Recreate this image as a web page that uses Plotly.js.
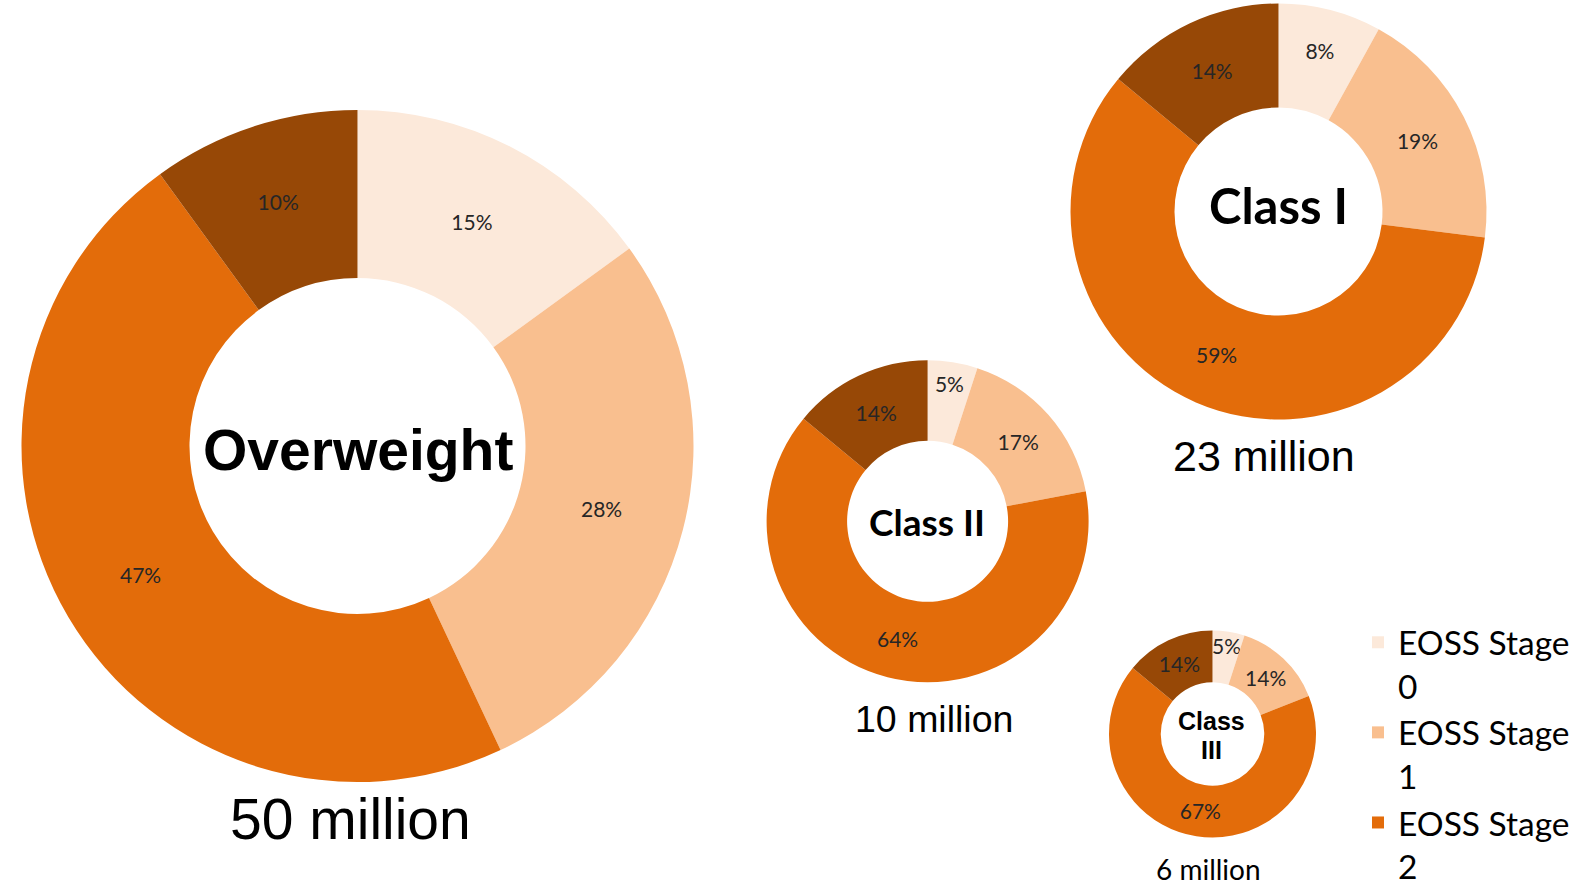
<!DOCTYPE html>
<html>
<head>
<meta charset="utf-8">
<script src="https://cdn.plot.ly/plotly-3.0.1.min.js"></script>
<style>
html,body{margin:0;padding:0;background:#fff;}
#chart{width:1581px;height:882px;}
</style>
</head>
<body>
<div id="chart"></div>
<script>
// ---- data ----
const categories = ['EOSS Stage<br>0', 'EOSS Stage<br>1', 'EOSS Stage<br>2', 'EOSS Stage<br>3'];
const groupNames = ['Overweight', 'Class I', 'Class II', 'Class III'];
const totalLabels = ['50 million', '23 million', '10 million', '6 million'];
const overweightValues = [15, 28, 47, 10];
const class1Values = [8, 19, 59, 14];
const class2Values = [5, 17, 64, 14];
const class3Values = [5, 14, 67, 14];

// ---- styling / layout ----
const W = 1581, H = 882;
const sliceColors = ['#FCE9DA', '#F9BF8F', '#E36C0A', '#974806'];
// pixel centre and radius of each donut
const pieGeom = [
  {cx: 357.5, cy: 446, r: 336},
  {cx: 1278.5, cy: 211.5, r: 208},
  {cx: 927.6, cy: 521.3, r: 161},
  {cx: 1212.5, cy: 734, r: 103.5}
];
const seriesValues = [overweightValues, class1Values, class2Values, class3Values];

const traces = seriesValues.map((vals, i) => {
  const g = pieGeom[i];
  return {
    type: 'pie',
    name: groupNames[i],
    labels: categories,
    values: vals,
    sort: false,
    direction: 'clockwise',
    rotation: 0,
    hole: 0.5,
    marker: {colors: sliceColors, line: {width: 0}},
    texttemplate: '%{value}%',
    textposition: 'inside',
    insidetextorientation: 'horizontal',
    textfont: {family: 'Lato, sans-serif', size: 21, color: '#262626'},
    hoverinfo: 'none',
    showlegend: i === 0,
    domain: {
      x: [(g.cx - g.r) / W, (g.cx + g.r) / W],
      y: [1 - (g.cy + g.r) / H, 1 - (g.cy - g.r) / H]
    }
  };
});

function ann(text, px, py, family, size, bold) {
  return {
    xref: 'paper', yref: 'paper',
    x: px / W, y: 1 - py / H,
    xanchor: 'center', yanchor: 'middle',
    showarrow: false,
    text: bold ? '<b>' + text + '</b>' : text,
    font: {family: family, size: size, color: '#000'}
  };
}

const annotations = [
  ann(groupNames[0], 357.5, 450, 'Liberation Sans, Arial, sans-serif', 57, true),
  ann(groupNames[1], 1278.5, 205, 'Lato, sans-serif', 49, true),
  ann(groupNames[2], 927, 521, 'Lato, sans-serif', 37, true),
  ann(groupNames[3].split(' ')[0], 1211, 721, 'Liberation Sans, Arial, sans-serif', 25, true),
  ann(groupNames[3].split(' ')[1], 1211, 750, 'Liberation Sans, Arial, sans-serif', 25, true),
  ann(totalLabels[0], 350, 819, 'Liberation Sans, Arial, sans-serif', 57, false),
  ann(totalLabels[1], 1264, 456, 'Liberation Sans, Arial, sans-serif', 43, false),
  ann(totalLabels[2], 934, 719, 'Liberation Sans, Arial, sans-serif', 37.5, false),
  ann(totalLabels[3], 1208, 869, 'Lato, sans-serif', 28, false)
];

const layout = {
  width: W, height: H,
  margin: {l: 0, r: 0, t: 0, b: 0, pad: 0, autoexpand: false},
  paper_bgcolor: '#fff',
  plot_bgcolor: '#fff',
  showlegend: true,
  legend: {
    x: 1358 / W, y: 1 - 614 / H,
    xanchor: 'left', yanchor: 'top',
    valign: 'top',
    bgcolor: 'rgba(0,0,0,0)',
    borderwidth: 0,
    font: {family: 'Lato, sans-serif', size: 33.5, color: '#000'},
    traceorder: 'normal'
  },
  uniformtext: {mode: 'show', minsize: 21},
  annotations: annotations
};

Plotly.newPlot('chart', traces, layout, {staticPlot: true, displayModeBar: false});
</script>
</body>
</html>
